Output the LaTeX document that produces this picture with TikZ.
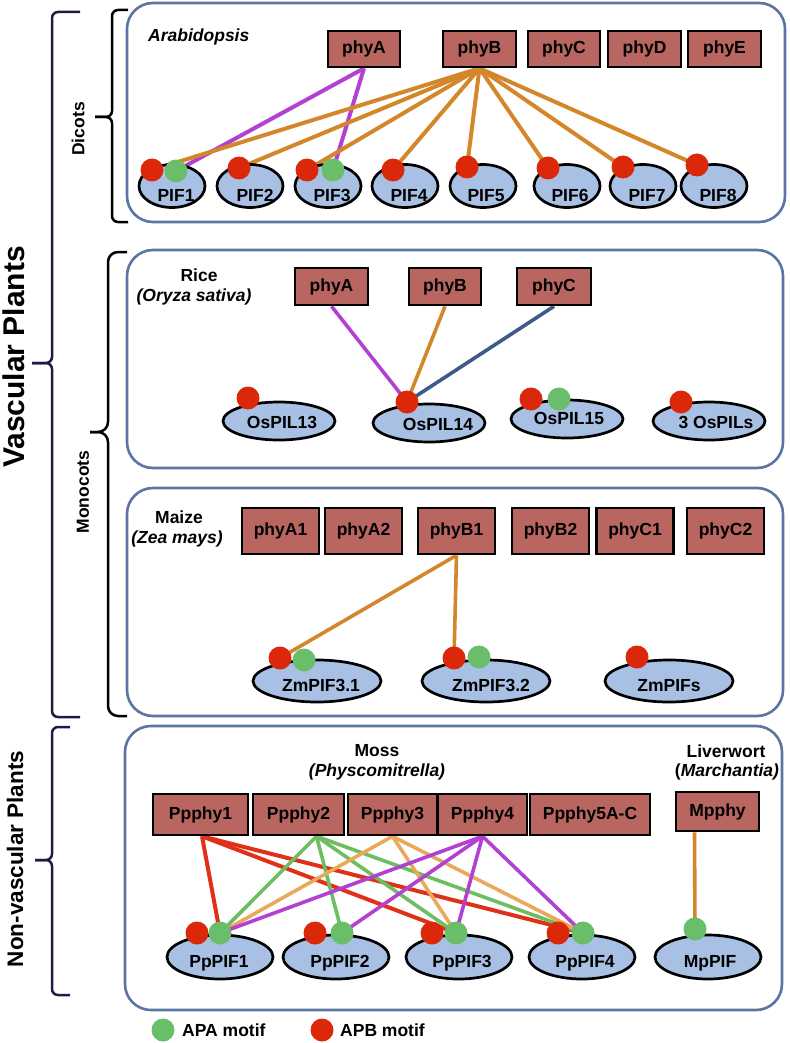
\documentclass[tikz,border=0pt]{standalone}
\usepackage{fontspec}
\setmainfont{Liberation Sans}
\usetikzlibrary{calc,shapes.geometric}
\pgfdeclarelayer{bg}
\pgfsetlayers{bg,main}
\definecolor{panelc}{RGB}{92,116,162}
\definecolor{boxc}{RGB}{185,101,96}
\definecolor{ellc}{RGB}{168,192,228}
\definecolor{apbc}{RGB}{220,40,10}
\definecolor{apac}{RGB}{106,190,105}
\definecolor{orc}{RGB}{212,134,42}
\definecolor{mgc}{RGB}{178,64,208}
\definecolor{blc}{RGB}{62,90,140}
\definecolor{navyc}{RGB}{28,28,72}
\definecolor{mred}{RGB}{224,48,24}
\definecolor{mgreen}{RGB}{108,190,96}
\definecolor{mor}{RGB}{236,168,90}
\begin{document}
\begin{tikzpicture}[x=1pt,y=-1pt,
  font=\fontsize{17.5}{20}\selectfont\bfseries,
  panel/.style={draw=panelc,line width=2.6pt,rounded corners=26pt},
  phybox/.style={draw=black,line width=2.6pt,fill=boxc,inner sep=0pt},
  pif/.style={ellipse,draw=black,line width=2.7pt,fill=ellc,inner sep=0pt},
  ptxt/.style={inner sep=0pt,anchor=base},
  apb/.style={circle,fill=apbc,inner sep=0pt,minimum size=23pt},
  apa/.style={circle,fill=apac,inner sep=0pt,minimum size=23pt},
  brk/.style={line width=2.5pt,rounded corners=6pt},
  lbl/.style={inner sep=0pt},
  con/.style={line width=3.6pt}]
\useasboundingbox (0,0) rectangle (789,1043);

% ---------- panels ----------
\draw[panel] (127,3) rectangle (785,222);
\draw[panel] (127,250) rectangle (783,468);
\draw[panel] (127,488) rectangle (783,716);
\draw[panel] (125,726) rectangle (782,1010);

% ---------- braces ----------
\draw[brk,navyc] (80,12) -- (52,12) -- (52,363) -- (32,363);
\draw[brk,navyc] (32,363) -- (52,363) -- (52,717) -- (80,717);
\draw[brk,navyc] (70,727) -- (52,727) -- (52,860) -- (35,860);
\draw[brk,navyc] (35,860) -- (52,860) -- (52,995) -- (70,995);
\draw[brk,black] (128,10) -- (112,10) -- (112,117) -- (95,117);
\draw[brk,black] (95,117) -- (112,117) -- (112,222) -- (128,222);
\draw[brk,black,rounded corners=10pt] (127,252) -- (108,252) -- (108,432) -- (90,432);
\draw[brk,black,rounded corners=10pt] (90,432) -- (108,432) -- (108,716) -- (127,716);

\node[lbl,rotate=90,font=\fontsize{30}{32}\selectfont\bfseries] (vasc) at (14,357) {Vascular Plants};
\node[lbl,rotate=90,font=\fontsize{22.5}{25}\selectfont\bfseries] (nonvasc) at (15,859) {Non-vascular Plants};
\node[lbl,rotate=90] (dicots) at (78,129) {Dicots};
\node[lbl,rotate=90] (monocots) at (83,492) {Monocots};

% ---------- Arabidopsis ----------
\node[lbl,anchor=west] (a-title) at (148,37) {\itshape Arabidopsis};
\begin{scope}[every node/.append style={minimum height=36pt}]
\node[phybox,minimum width=72pt] (a-phyA) at (364,49) {phyA};
\node[phybox,minimum width=73pt] (a-phyB) at (479.5,49) {phyB};
\node[phybox,minimum width=72pt] (a-phyC) at (564,49) {phyC};
\node[phybox,minimum width=73pt] (a-phyD) at (644.5,49) {phyD};
\node[phybox,minimum width=73pt] (a-phyE) at (724.5,49) {phyE};
\end{scope}
\begin{scope}[every node/.append style={minimum width=66pt,minimum height=43pt}]
\node[pif] (a-p1) at (172,186) {};
\node[pif] (a-p2) at (250,186) {};
\node[pif] (a-p3) at (328,186) {};
\node[pif] (a-p4) at (405,186) {};
\node[pif] (a-p5) at (483,186) {};
\node[pif] (a-p6) at (567,186) {};
\node[pif] (a-p7) at (643,186) {};
\node[pif] (a-p8) at (714,186) {};
\end{scope}
\node[ptxt] (a-p1t) at ($(a-p1.center)+(4,15)$) {PIF1};
\node[ptxt] (a-p2t) at ($(a-p2.center)+(5,15)$) {PIF2};
\node[ptxt] (a-p3t) at ($(a-p3.center)+(4,15)$) {PIF3};
\node[ptxt] (a-p4t) at ($(a-p4.center)+(4,15)$) {PIF4};
\node[ptxt] (a-p5t) at ($(a-p5.center)+(3,15)$) {PIF5};
\node[ptxt] (a-p6t) at ($(a-p6.center)+(3,15)$) {PIF6};
\node[ptxt] (a-p7t) at ($(a-p7.center)+(4,15)$) {PIF7};
\node[ptxt] (a-p8t) at ($(a-p8.center)+(4,15)$) {PIF8};
\node[apb] (a-r1) at (152,170) {};
\node[apa] (a-g1) at (176,171) {};
\node[apb] (a-r2) at (239,168) {};
\node[apb] (a-r3) at (307,170) {};
\node[apa] (a-g3) at (333,170) {};
\node[apb] (a-r4) at (393,170) {};
\node[apb] (a-r5) at (467,167) {};
\node[apb] (a-r6) at (548,168) {};
\node[apb] (a-r7) at (623,167) {};
\node[apb] (a-r8) at (697,165) {};

% ---------- Rice ----------
\node[lbl] (r-t1) at (199,275) {Rice};
\node[lbl] (r-t2) at (194,297) {\itshape (Oryza sativa)};
\begin{scope}[every node/.append style={minimum height=37pt}]
\node[phybox,minimum width=73pt] (r-phyA) at (331.5,286.5) {phyA};
\node[phybox,minimum width=72pt] (r-phyB) at (445,286.5) {phyB};
\node[phybox,minimum width=74pt] (r-phyC) at (554,286.5) {phyC};
\end{scope}
\begin{scope}[every node/.append style={minimum width=112pt,minimum height=38pt}]
\node[pif] (r-p13) at (279,421) {};
\node[pif] (r-p14) at (429,423) {};
\node[pif] (r-p15) at (567,419) {};
\node[pif] (r-p3s) at (709,421) {};
\end{scope}
\node[ptxt] (r-p13t) at ($(r-p13.center)+(3,7)$) {OsPIL13};
\node[ptxt] (r-p14t) at ($(r-p14.center)+(9,7)$) {OsPIL14};
\node[ptxt] (r-p15t) at ($(r-p15.center)+(2,5)$) {OsPIL15};
\node[ptxt] (r-p3st) at ($(r-p3s.center)+(7,7)$) {3 OsPILs};
\node[apb] (r-r13) at (248,398) {};
\node[apb] (r-r14) at (407,402) {};
\node[apb] (r-r15) at (531,399) {};
\node[apa] (r-g15) at (559,399) {};
\node[apb] (r-r3s) at (681,402) {};

% ---------- Maize ----------
\node[lbl] (z-t1) at (179,517) {Maize};
\node[lbl] (z-t2) at (177,539) {\itshape (Zea mays)};
\begin{scope}[every node/.append style={minimum height=46pt,minimum width=77pt}]
\node[phybox] (z-phyA1) at (280.5,531) {phyA1};
\node[phybox] (z-phyA2) at (363.5,531) {phyA2};
\node[phybox] (z-phyB1) at (456.5,531) {phyB1};
\node[phybox] (z-phyB2) at (550.5,531) {phyB2};
\node[phybox] (z-phyC1) at (635,531) {phyC1};
\node[phybox] (z-phyC2) at (725.5,531) {phyC2};
\end{scope}
\begin{scope}[every node/.append style={minimum width=128pt,minimum height=42pt}]
\node[pif] (z-p31) at (317,681) {};
\node[pif] (z-p32) at (486,681) {};
\node[pif] (z-ps) at (669,681) {};
\end{scope}
\node[ptxt] (z-p31t) at ($(z-p31.center)+(4,10)$) {ZmPIF3.1};
\node[ptxt] (z-p32t) at ($(z-p32.center)+(5,10)$) {ZmPIF3.2};
\node[ptxt] (z-pst) at ($(z-ps.center)+(0,10)$) {ZmPIFs};
\node[apb] (z-r31) at (280,658) {};
\node[apa] (z-g31) at (304,660) {};
\node[apb] (z-r32) at (454,658) {};
\node[apa] (z-g32) at (479,657) {};
\node[apb] (z-rs) at (637,657) {};

% ---------- Moss / Liverwort ----------
\node[lbl] (m-t1) at (377,751) {Moss};
\node[lbl] (m-t2) at (377,772) {\itshape (Physcomitrella)};
\node[lbl] (l-t1) at (726,751) {Liverwort};
\node[lbl] (l-t2) at (727,772) {(\textit{Marchantia)}};
\begin{scope}[every node/.append style={minimum height=41pt}]
\node[phybox,minimum width=95pt] (m-pp1) at (200.5,814.5) {Ppphy1};
\node[phybox,minimum width=91pt] (m-pp2) at (298.5,814.5) {Ppphy2};
\node[phybox,minimum width=89pt] (m-pp3) at (392.5,814.5) {Ppphy3};
\node[phybox,minimum width=89pt] (m-pp4) at (482.5,814.5) {Ppphy4};
\node[phybox,minimum width=120pt] (m-pp5) at (590,814.5) {Ppphy5A-C};
\end{scope}
\node[phybox,minimum width=83pt,minimum height=39pt] (l-mp) at (717.5,811.5) {Mpphy};
\begin{scope}[every node/.append style={minimum width=106pt,minimum height=44pt}]
\node[pif] (m-p1) at (220,957) {};
\node[pif] (m-p2) at (336,957) {};
\node[pif] (m-p3) at (459,957) {};
\node[pif] (m-p4) at (582,957) {};
\node[pif] (l-p) at (708,957) {};
\end{scope}
\node[ptxt] (m-p1t) at ($(m-p1.center)+(-1,10)$) {PpPIF1};
\node[ptxt] (m-p2t) at ($(m-p2.center)+(4,10)$) {PpPIF2};
\node[ptxt] (m-p3t) at ($(m-p3.center)+(3,10)$) {PpPIF3};
\node[ptxt] (m-p4t) at ($(m-p4.center)+(3,10)$) {PpPIF4};
\node[ptxt] (l-pt) at ($(l-p.center)+(2,10)$) {MpPIF};
\node[apb] (m-r1) at (197,933) {};
\node[apa] (m-g1) at (220,933) {};
\node[apb] (m-r2) at (315,933) {};
\node[apa] (m-g2) at (342,933) {};
\node[apb] (m-r3) at (432,933) {};
\node[apa] (m-g3) at (456,933) {};
\node[apb] (m-r4) at (558,933) {};
\node[apa] (m-g4) at (583,933) {};
\node[apa] (l-g) at (695,929) {};

\coordinate (m-o1) at ($(m-pp1.south)+(1.5,0)$);
\coordinate (m-o2) at ($(m-pp2.south)+(18,0)$);
\coordinate (l-o) at ($(l-mp.south)+(-23,0)$);

% ---------- legend ----------
\node[apa] (leg-g) at (163,1030) {};
\node[lbl,anchor=west] (leg-gt) at (182,1030) {APA motif};
\node[apb] (leg-r) at (322,1030) {};
\node[lbl,anchor=west] (leg-rt) at (340,1030) {APB motif};

% ---------- connectors ----------
\begin{pgfonlayer}{bg}
\draw[con,line width=4pt,mgc] (a-phyA.south) -- (a-g1.center);
\draw[con,line width=4pt,mgc] (a-phyA.south) -- (a-g3.center);
\foreach \t in {r1,r2,r3,r4,r5,r6,r7,r8}
  \draw[con,line width=4pt,orc] (a-phyB.south) -- (a-\t.center);

\draw[con,mgc] (r-phyA.south) -- (r-r14.center);
\draw[con,orc] (r-phyB.south) -- (r-r14.center);
\draw[con,blc] (r-phyC.south) -- (r-r14.center);

\draw[con,orc] (z-phyB1.south) -- (z-r31.center);
\draw[con,orc] (z-phyB1.south) -- (z-r32.center);

\foreach \t in {g1,g3,g4}
  \draw[con,line width=4pt,mred] (m-o1) -- (m-\t.center);
\foreach \t in {g1,g2,g3,g4}
  \draw[con,mgreen] (m-o2) -- (m-\t.center);
\foreach \t in {g1,g3,g4}
  \draw[con,mor] (m-pp3.south) -- (m-\t.center);
\foreach \t in {g1,g2,g3,g4}
  \draw[con,mgc] (m-pp4.south) -- (m-\t.center);
\draw[con,orc] (l-o) -- (l-g.center);
\end{pgfonlayer}
\end{tikzpicture}
\end{document}
